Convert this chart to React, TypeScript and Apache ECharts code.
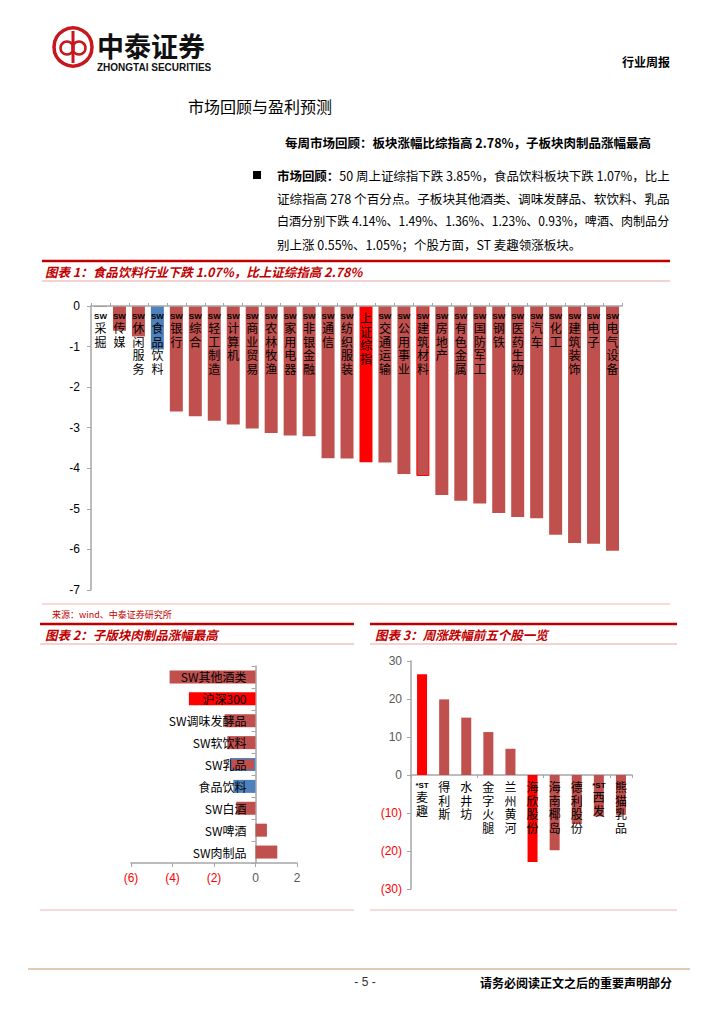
import React, { useEffect, useRef } from "react";
import * as echarts from "echarts";

// ---------- Data ----------
const industryNames = [
  "SW采掘", "SW传媒", "SW休闲服务", "SW食品饮料", "SW银行", "SW综合", "SW轻工制造",
  "SW计算机", "SW商业贸易", "SW农林牧渔", "SW家用电器", "SW非银金融", "SW通信",
  "SW纺织服装", "上证综指", "SW交通运输", "SW公用事业", "SW建筑材料", "SW房地产",
  "SW有色金属", "SW国防军工", "SW钢铁", "SW医药生物", "SW汽车", "SW化工",
  "SW建筑装饰", "SW电子", "SW电气设备",
];
const industryChanges = [
  -0.02, -0.61, -0.75, -1.07, -2.6, -2.72, -2.83, -2.92, -3.02, -3.13, -3.19, -3.21,
  -3.75, -3.76, -3.85, -3.86, -4.14, -4.19, -4.66, -4.8, -4.87, -5.1, -5.2, -5.23,
  -5.64, -5.84, -5.86, -6.03,
];

const subNames = [
  "SW其他酒类", "沪深300", "SW调味发酵品", "SW软饮料", "SW乳品", "食品饮料", "SW白酒", "SW啤酒", "SW肉制品",
];
const subChanges = [-4.14, -3.21, -1.49, -1.36, -1.23, -1.07, -0.93, 0.55, 1.05];

const stockNames = [
  "*ST麦趣", "得利斯", "水井坊", "金字火腿", "兰州黄河", "海欣股份", "海南椰岛", "德利股份", "*ST西发", "熊猫乳品",
];
const stockChanges = [26.5, 19.9, 15.1, 11.3, 6.9, -22.9, -19.8, -12.9, -10.9, -10.5];

const paragraphBold = ["市场回顾：", "", "", ""];
const paragraphLines = [
  "50 周上证综指下跌 3.85%，食品饮料板块下跌 1.07%，比上",
  "证综指高 278 个百分点。子板块其他酒类、调味发酵品、软饮料、乳品",
  "白酒分别下跌 4.14%、1.49%、1.36%、1.23%、0.93%，啤酒、肉制品分",
  "别上涨 0.55%、1.05%；个股方面，ST 麦趣领涨板块。",
];

// ---------- Styles ----------
const CJK = '"Noto Sans CJK SC", sans-serif';
const LAT = '"Liberation Sans", Arial, sans-serif';
const BAR = "#C0504D";
const BLUE = "#4F81BD";
const RED = "#FF0000";
const DARKRED = "#C00000";
const AXIS = "#A6A6A6";

function verticalLabel(name: string): string {
  let prefix = "";
  let rest = name;
  if (name.startsWith("*ST")) {
    prefix = "{p|*ST}";
    rest = name.slice(3);
  } else if (name.startsWith("SW")) {
    prefix = "{p|SW}";
    rest = name.slice(2);
  }
  const lines = rest.split("").map((c) => `{c|${c}}`);
  return (prefix ? [prefix, ...lines] : lines).join("\n");
}

const verticalRich = {
  p: { fontSize: 8, fontWeight: "bold", fontFamily: LAT, lineHeight: 10, color: "#000" },
  c: { fontSize: 12, fontFamily: CJK, lineHeight: 13.5, color: "#000" },
};

function txt(x: number, y: number, text: string, size: number, opts: any = {}) {
  return {
    type: "text",
    x,
    y,
    scaleX: opts.scaleX || 1,
    silent: true,
    style: {
      text,
      fill: opts.fill || "#000",
      fontSize: size,
      fontFamily: opts.family || CJK,
      fontWeight: opts.weight || "normal",
      fontStyle: opts.style || "normal",
      textAlign: opts.align || "left",
      textVerticalAlign: "middle",
      verticalAlign: "middle",
      lineHeight: opts.lineHeight,
      rich: opts.rich,
    },
  };
}

function hline(x1: number, x2: number, y: number, color: string, w: number) {
  return {
    type: "line",
    silent: true,
    shape: { x1, y1: y, x2, y2: y },
    style: { stroke: color, lineWidth: w },
  };
}

function measure(text: string, font: string): number {
  try {
    const c = document.createElement("canvas").getContext("2d");
    if (!c) return 0;
    c.font = font;
    return c.measureText(text).width;
  } catch (e) {
    return 0;
  }
}

export default function App() {
  const ref = useRef<HTMLDivElement>(null);

  useEffect(() => {
    if (!ref.current) return;
    const chart = echarts.init(ref.current, undefined, { renderer: "svg" });

    const PARA_SIZE = 12.5;
    const PARA_LEFT = 277;
    const PARA_RIGHT = 670;
    const paraGraphics = paragraphLines.map((l, i) => {
      const boldPart = paragraphBold[i];
      const w =
        measure(boldPart, `bold ${PARA_SIZE}px "Noto Sans CJK SC"`) +
        measure(l, `${PARA_SIZE}px "Noto Sans CJK SC"`);
      const justify = i < paragraphLines.length - 1;
      const sx = justify && w > 0 ? (PARA_RIGHT - PARA_LEFT) / w : 1;
      const text = boldPart ? `{b|${boldPart}}${l}` : l;
      return txt(PARA_LEFT, 176 + i * 22.7, text, PARA_SIZE, {
        scaleX: sx,
        rich: { b: { fontWeight: "bold", fontSize: PARA_SIZE, fontFamily: CJK } },
      });
    });

    const graphics: any[] = [
      // logo
      { type: "circle", silent: true, shape: { cx: 73, cy: 47, r: 19 }, style: { fill: "none", stroke: "#C8161D", lineWidth: 3.5 } },
      { type: "circle", silent: true, shape: { cx: 67, cy: 48, r: 6.5 }, style: { fill: "none", stroke: "#C8161D", lineWidth: 2.5 } },
      { type: "circle", silent: true, shape: { cx: 79, cy: 48, r: 6.5 }, style: { fill: "none", stroke: "#C8161D", lineWidth: 2.5 } },
      { type: "line", silent: true, shape: { x1: 73, y1: 31, x2: 73, y2: 63 }, style: { stroke: "#C8161D", lineWidth: 3 } },
      txt(97, 45, "中泰证券", 27, { weight: "bold", fill: "#111", lineHeight: 27 }),
      txt(97, 67, "ZHONGTAI SECURITIES", 10, { weight: "bold", family: LAT, fill: "#111", lineHeight: 10 }),
      txt(670, 61, "行业周报", 12, { weight: "bold", align: "right" }),
      // heading
      txt(188, 106, "市场回顾与盈利预测", 16, {}),
      txt(285, 142, "每周市场回顾：板块涨幅比综指高 2.78%，子板块肉制品涨幅最高", 12.5, { weight: "bold" }),
      { type: "rect", silent: true, shape: { x: 253, y: 171, width: 8, height: 8 }, style: { fill: "#000" } },
      ...paraGraphics,
      // chart 1 frame
      hline(42, 670, 261, DARKRED, 2.5),
      txt(45, 271.5, "图表 1：食品饮料行业下跌 1.07%，比上证综指高 2.78%", 12.5, { weight: "bold", style: "italic", fill: DARKRED }),
      hline(42, 670, 281, "#E8A5A5", 1),
      hline(42, 670, 604, "#F0B4B4", 1),
      txt(52, 614, "来源：wind、中泰证券研究所", 9, { fill: DARKRED }),
      // chart 2 frame
      hline(40, 354, 624, DARKRED, 2.5),
      txt(45, 634.5, "图表 2：子版块肉制品涨幅最高", 12.5, { weight: "bold", style: "italic", fill: DARKRED }),
      hline(40, 354, 644, "#E8A5A5", 1),
      hline(40, 354, 910, "#F0B4B4", 1),
      // chart 3 frame
      hline(370, 677, 624, DARKRED, 2.5),
      txt(375, 634.5, "图表 3：周涨跌幅前五个股一览", 12.5, { weight: "bold", style: "italic", fill: DARKRED }),
      hline(370, 677, 644, "#E8A5A5", 1),
      hline(370, 677, 910, "#F0B4B4", 1),
      // footer
      hline(28, 690, 969, "#E2CBB5", 2),
      txt(365, 982, "- 5 -", 12, { family: LAT, fill: "#333", align: "center" }),
      txt(672, 982, "请务必阅读正文之后的重要声明部分", 12, { weight: "bold", align: "right" }),
    ];

    const option: any = {
      animation: false,
      backgroundColor: "#fff",
      graphic: graphics,
      grid: [
        { left: 91, top: 306, width: 531, height: 284, containLabel: false, outerBoundsMode: "none" },
        { left: 131, top: 666, width: 166, height: 197, containLabel: false, outerBoundsMode: "none" },
        { left: 411, top: 661, width: 221, height: 228, containLabel: false, outerBoundsMode: "none" },
      ],
      xAxis: [
        {
          type: "category",
          gridIndex: 0,
          position: "top",
          data: industryNames,
          z: 5,
          axisLine: { lineStyle: { color: AXIS, width: 1.5 } },
          axisTick: { show: true, length: 3, lineStyle: { color: AXIS } },
          axisLabel: { inside: true, interval: 0, margin: 5, formatter: verticalLabel, rich: verticalRich },
        },
        {
          type: "value",
          gridIndex: 1,
          min: -6,
          max: 2,
          interval: 2,
          splitLine: { show: false },
          axisLine: { show: true, lineStyle: { color: AXIS, width: 1.5 } },
          axisTick: { show: true, length: 4, lineStyle: { color: AXIS } },
          axisLabel: {
            margin: 9,
            formatter: (v: number) => (v < 0 ? `{neg|(${-v})}` : `{pos|${v}}`),
            rich: {
              neg: { color: RED, fontSize: 12, fontFamily: LAT },
              pos: { color: "#595959", fontSize: 12, fontFamily: LAT },
            },
          },
        },
        {
          type: "category",
          gridIndex: 2,
          data: stockNames,
          axisLine: { onZero: true, lineStyle: { color: AXIS, width: 1.5 } },
          axisTick: { show: true, length: 3, lineStyle: { color: AXIS } },
          axisLabel: { show: false },
        },
      ],
      yAxis: [
        {
          type: "value",
          gridIndex: 0,
          min: -7,
          max: 0,
          interval: 1,
          splitLine: { show: false },
          axisLine: { show: true, lineStyle: { color: AXIS, width: 1.5 } },
          axisTick: { show: true, length: 4, lineStyle: { color: AXIS } },
          axisLabel: { margin: 11, fontSize: 12, fontFamily: LAT, color: "#000" },
        },
        {
          type: "category",
          gridIndex: 1,
          inverse: true,
          data: subNames,
          axisLine: { onZero: true, lineStyle: { color: AXIS, width: 1.5 } },
          axisTick: { show: true, length: 4, lineStyle: { color: AXIS } },
          axisLabel: { show: false },
        },
        {
          type: "value",
          gridIndex: 2,
          min: -30,
          max: 30,
          interval: 10,
          splitLine: { show: false },
          axisLine: { show: true, lineStyle: { color: AXIS, width: 1.5 } },
          axisTick: { show: true, length: 4, lineStyle: { color: AXIS } },
          axisLabel: {
            margin: 9,
            formatter: (v: number) => (v < 0 ? `{neg|(${-v})}` : `{pos|${v}}`),
            rich: {
              neg: { color: RED, fontSize: 12, fontFamily: LAT },
              pos: { color: "#595959", fontSize: 12, fontFamily: LAT },
            },
          },
        },
      ],
      series: [
        {
          type: "bar",
          xAxisIndex: 0,
          yAxisIndex: 0,
          barWidth: 13,
          data: industryChanges.map((v, i) => {
            const n = industryNames[i];
            const color = n === "上证综指" ? RED : n === "SW食品饮料" ? BLUE : BAR;
            return {
              value: v,
              itemStyle: {
                color,
                borderColor: n === "SW建筑材料" ? RED : undefined,
                borderWidth: n === "SW建筑材料" ? 1 : 0,
              },
            };
          }),
        },
        {
          type: "bar",
          xAxisIndex: 1,
          yAxisIndex: 1,
          barWidth: 13,
          data: subChanges.map((v, i) => {
            const n = subNames[i];
            const color = n === "沪深300" ? RED : n === "食品饮料" ? BLUE : BAR;
            return {
              value: v,
              itemStyle: {
                color,
                borderColor: n === "SW乳品" ? BLUE : undefined,
                borderWidth: n === "SW乳品" ? 1.5 : 0,
              },
              label: {
                show: true,
                position: v < 0 ? "insideRight" : "left",
                distance: 9,
                formatter: n,
                color: "#000",
                fontSize: 12,
                fontFamily: CJK,
              },
            };
          }),
        },
        {
          type: "bar",
          xAxisIndex: 2,
          yAxisIndex: 2,
          barWidth: 10,
          data: stockChanges.map((v, i) => {
            const n = stockNames[i];
            const color = n === "*ST麦趣" || n === "海欣股份" ? RED : BAR;
            return {
              value: v,
              itemStyle: { color },
              label: {
                show: true,
                position: v >= 0 ? "bottom" : "insideTop",
                distance: 5,
                formatter: verticalLabel(n),
                rich: verticalRich,
              },
            };
          }),
        },
      ],
    };

    chart.setOption(option);
    return () => chart.dispose();
  }, []);

  return (
    <div
      ref={ref}
      style={{ position: "absolute", left: 0, top: 0, width: 724, height: 1024, background: "#fff" }}
    />
  );
}
